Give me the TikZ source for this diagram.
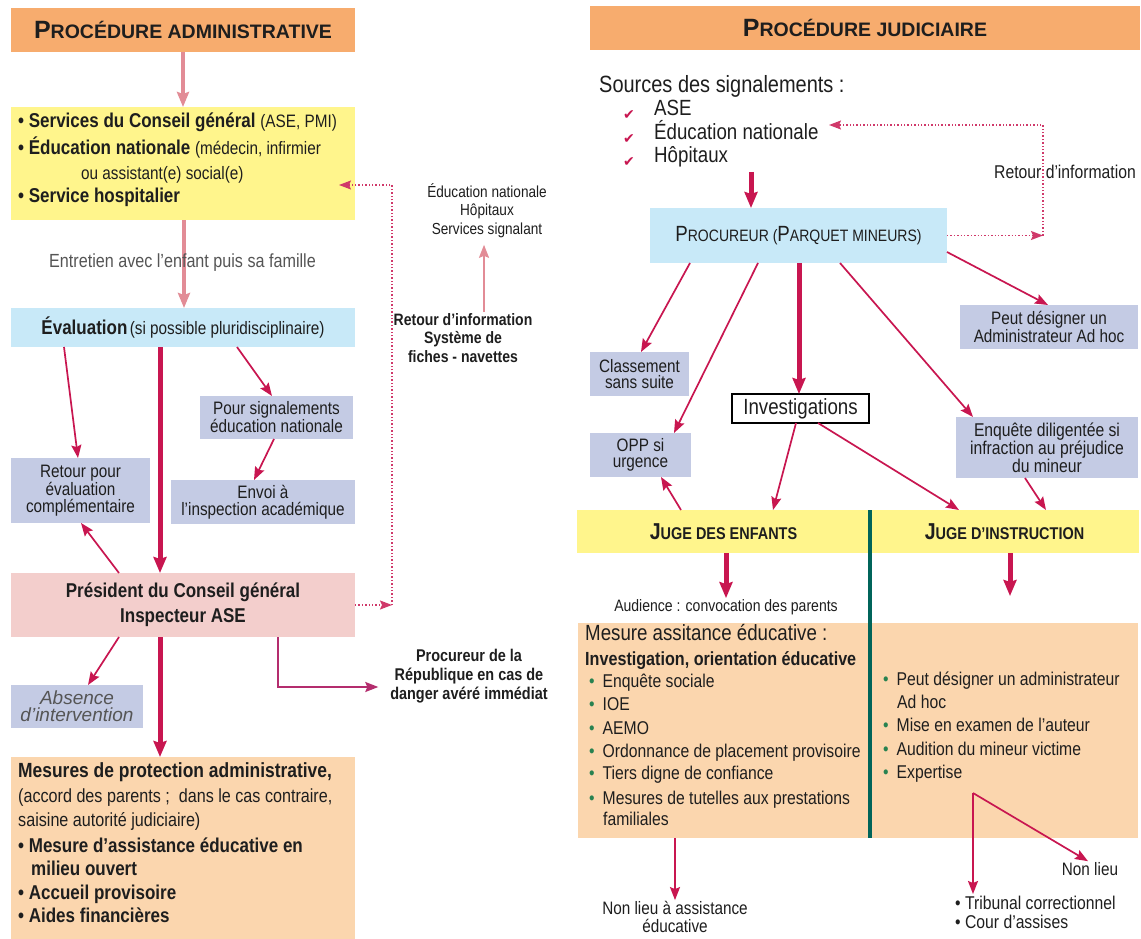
\documentclass[tikz,border=0pt]{standalone}
\usepackage{fontspec}
\setmainfont{Liberation Sans}[FakeStretch=0.85]
\newfontfamily\widefont{Liberation Sans}
\newfontfamily\symfont{DejaVu Sans}
\usetikzlibrary{arrows.meta}
\newcommand{\myfs}[2]{\fontsize{#1}{#2}\selectfont}
\definecolor{orng}{RGB}{247,172,110}
\definecolor{yelc}{RGB}{255,245,140}
\definecolor{lblue}{RGB}{200,233,248}
\definecolor{lav}{RGB}{196,203,228}
\definecolor{pnk}{RGB}{243,206,204}
\definecolor{peach}{RGB}{251,214,174}
\definecolor{crim}{RGB}{200,22,80}
\definecolor{magc}{RGB}{180,45,110}
\definecolor{palec}{RGB}{226,140,150}
\definecolor{divc}{RGB}{0,100,90}
\definecolor{txt}{RGB}{30,30,30}
\definecolor{gtxt}{RGB}{85,85,85}
\definecolor{bul}{RGB}{40,130,80}
\tikzset{
  every node/.append style={text=txt},
  box/.style={rectangle, inner sep=0pt, outer sep=0pt, align=center},
  lbl/.style={inner sep=1pt, align=center},
  line/.style={anchor=mid west, inner sep=0pt},
  thinar/.style={draw=crim, line width=1.7pt, -{Stealth[length=13pt,width=10pt,inset=2pt]}},
  thickar/.style={draw=crim, line width=5pt, -{Stealth[length=16pt,width=13pt,inset=2pt]}},
  palear/.style={draw=palec, line width=4pt, -{Stealth[length=15pt,width=12pt,inset=2pt]}},
  palethin/.style={draw=palec, line width=2pt, -{Stealth[length=13pt,width=10pt,inset=2pt]}},
  magar/.style={draw=magc, line width=1.7pt, -{Stealth[length=13pt,width=10pt,inset=2pt]}},
  dotar/.style={draw=crim!85, line width=1.4pt, dotted, -{Stealth[length=12pt,width=9pt,inset=2pt]}},
}
\begin{document}
\begin{tikzpicture}[x=1pt,y=-1pt]
\useasboundingbox (0,0) rectangle (1141,939);
\fill[white] (0,0) rectangle (1141,939);

% ===== LEFT : boxes =====
\node[box,fill=orng,minimum width=344pt,minimum height=44pt,font=\widefont\bfseries] (tadm) at (183,30)
  {\myfs{25}{25}P\myfs{19.5}{20}ROCÉDURE ADMINISTRATIVE};
\node[box,fill=yelc,minimum width=344pt,minimum height=113pt] (yel) at (183,163.5) {};
\node[box,fill=lblue,minimum width=344pt,minimum height=39pt] (eval) at (183,327.5) {};
\node[box,fill=lav,minimum width=153pt,minimum height=43pt,font=\myfs{18}{16.5}] (pour) at (276.5,417.5) {Pour signalements\\éducation nationale};
\node[box,fill=lav,minimum width=184pt,minimum height=44pt,font=\myfs{18}{16.5}] (envoi) at (263,502) {Envoi à\\l’inspection académique};
\node[box,fill=lav,minimum width=139pt,minimum height=65pt,font=\myfs{18}{16.5}] (retour) at (80.5,490.5) {Retour pour\\évaluation\\complémentaire};
\node[box,fill=pnk,minimum width=344pt,minimum height=64pt,font=\myfs{20}{25}\bfseries] (pres) at (183,605) {Président du Conseil général\\Inspecteur ASE};
\node[box,fill=lav,minimum width=132pt,minimum height=43pt,font=\widefont\itshape\myfs{19}{17},text=gtxt] (abs) at (77,706.5) {Absence\\d’intervention};
\node[box,fill=peach,minimum width=344pt,minimum height=182pt] (mes) at (183,848) {};

% ===== RIGHT : boxes =====
\node[box,fill=orng,minimum width=550pt,minimum height=44pt,font=\widefont\bfseries] (tjud) at (865,28)
  {\myfs{25}{25}P\myfs{19.5}{20}ROCÉDURE JUDICIAIRE};
\node[box,fill=lblue,minimum width=297pt,minimum height=55pt] (proc) at (798.5,235.5)
  {\myfs{22}{22}P\myfs{16.5}{18}ROCUREUR (\myfs{22}{22}P\myfs{16.5}{18}ARQUET MINEURS)};
\node[box,fill=lav,minimum width=178pt,minimum height=44pt,font=\myfs{18}{16.5}] (peut) at (1049,327) {Peut désigner un\\Administrateur Ad hoc};
\node[box,fill=lav,minimum width=99pt,minimum height=44pt,font=\myfs{18}{16.5}] (class) at (639.5,374) {Classement\\sans suite};
\node[box,fill=white,draw=black,line width=1.2pt,minimum width=137pt,minimum height=29pt,font=\myfs{22}{22}] (invest) at (800.5,408.5) {Investigations};
\node[box,fill=lav,minimum width=101pt,minimum height=44pt,font=\myfs{18}{16.5}] (opp) at (640.5,455) {OPP si\\urgence};
\node[box,fill=lav,minimum width=182pt,minimum height=61pt,font=\myfs{18.5}{18}] (enq) at (1047,447.5) {Enquête diligentée si\\infraction au préjudice\\du mineur};
\node[box,fill=yelc,minimum width=293pt,minimum height=43pt,font=\bfseries] (jugeE) at (723.5,531.5)
  {\myfs{23}{23}J\myfs{17}{18}UGE DES ENFANTS};
\node[box,fill=yelc,minimum width=269pt,minimum height=43pt,font=\bfseries] (jugeI) at (1004.5,531.5)
  {\myfs{23}{23}J\myfs{17}{18}UGE D’INSTRUCTION};
\node[box,fill=peach,minimum width=292pt,minimum height=215pt] (peachL) at (724,730.5) {};
\node[box,fill=peach,minimum width=268pt,minimum height=215pt] (peachR) at (1004,730.5) {};
\draw[divc,line width=4pt] (jugeE.north east) -- (peachL.south east);

% ===== LEFT : connectors =====
\draw[palear] (tadm.south) -- (yel.north);
\draw[palear] ([xshift=1pt]yel.south) -- ([xshift=1pt]eval.north);
\draw[thickar] ([xshift=-23pt]eval.south) -- ([xshift=-23pt]pres.north);
\draw[thinar] ([xshift=-119pt]eval.south) -- ([xshift=-2.5pt]retour.north);
\draw[thinar] ([xshift=54pt]eval.south) -- ([xshift=-4.5pt]pour.north);
\draw[thinar] ([xshift=-2.5pt]pour.south) -- ([xshift=-9pt]envoi.north);
\draw[thinar] ([xshift=-64pt]pres.north) -- ([xshift=0.5pt]retour.south);
\draw[thinar] ([xshift=-64pt]pres.south) -- ([xshift=11pt]abs.north);
\draw[thickar] ([xshift=-23pt]pres.south) -- ([xshift=-23pt]mes.north);
\coordinate (dL1) at (392,605);
\coordinate (dL2) at (392,185);
\coordinate (dL3) at (339,185);
\draw[dotar] (pres.east) -- (dL1);
\draw[dotar] (dL1) -- (dL2) -- (dL3);

% ===== LEFT : texts =====
\node[line,font=\myfs{20}{22}\bfseries] (y1) at (18,125) {• Services du Conseil général {\mdseries\myfs{18}{20}(ASE, PMI)}};
\node[line,font=\myfs{20}{22}\bfseries] (y2) at (18,152) {• Éducation nationale {\mdseries\myfs{18}{20}(médecin, infirmier}};
\node[line,font=\myfs{18}{20}] (y3) at (81,177) {ou assistant(e) social(e)};
\node[line,font=\myfs{20}{22}\bfseries] (y4) at (18,200) {• Service hospitalier};
\node[lbl,font=\myfs{19}{20},text=gtxt] (entr) at (182.5,263) {Entretien avec l’enfant puis sa famille};
\node[lbl] (evalt) at (eval.center) {{\bfseries\myfs{20}{22}Évaluation} {\myfs{18}{20}(si possible pluridisciplinaire)}};
\node[lbl,font=\myfs{16}{18.5}] (edusig) at (487,210.5) {Éducation nationale\\Hôpitaux\\Services signalant};
\node[lbl,font=\myfs{16.5}{18.5}\bfseries] (retinfoL) at (463,338) {Retour d’information\\Système de\\fiches - navettes};
\draw[palethin] ([xshift=21pt]retinfoL.north) -- ([xshift=-3pt,yshift=-6pt]edusig.south);
\node[box,font=\myfs{17}{19}\bfseries] (procrep) at (469,676) {Procureur de la\\République en cas de\\danger avéré immédiat};
\draw[magar] ([xshift=95pt]pres.south) |- ([xshift=-12pt,yshift=-11pt]procrep.west);
\node[line,font=\myfs{20.5}{22}\bfseries] (m1) at (18,775) {Mesures de protection administrative,};
\node[line,font=\myfs{19}{22}] (m2) at (18,800) {(accord des parents ;~ dans le cas contraire,};
\node[line,font=\myfs{19}{22}] (m3) at (18,824) {saisine autorité judiciaire)};
\node[line,font=\myfs{20}{22}\bfseries] (m4) at (18,850) {• Mesure d’assistance éducative en};
\node[line,font=\myfs{20}{22}\bfseries] (m5) at (31,873) {milieu ouvert};
\node[line,font=\myfs{20}{22}\bfseries] (m6) at (18,897) {• Accueil provisoire};
\node[line,font=\myfs{20}{22}\bfseries] (m7) at (18,920) {• Aides financières};

% ===== RIGHT : texts =====
\node[line,font=\myfs{23.5}{24}] (src) at (599,90) {Sources des signalements :};
\node[line,font=\myfs{22}{24}] (ase) at (654,113) {ASE};
\node[line,font=\myfs{22}{24}] (edn) at (654,137) {Éducation nationale};
\node[line,font=\myfs{22}{24}] (hop) at (654,160) {Hôpitaux};
\node[inner sep=0pt,font=\symfont\myfs{14}{14},text=crim] (ck1) at (629,115) {✔};
\node[inner sep=0pt,font=\symfont\myfs{14}{14},text=crim] (ck2) at (629,139) {✔};
\node[inner sep=0pt,font=\symfont\myfs{14}{14},text=crim] (ck3) at (629,162) {✔};
\node[lbl,font=\myfs{18.5}{20}] (retinfoR) at (1065,172) {Retour d’information};
\coordinate (srcb) at (751,172);
\coordinate (dR1) at (1043,235.5);
\coordinate (dR2) at (1043,125);
\coordinate (dR3) at (829,125);
\draw[dotar] (proc.east) -- (dR1);
\draw[dotar] (dR1) -- (dR2) -- (dR3);
\draw[thickar] (srcb) -- ([xshift=-47.5pt]proc.north);

% connectors from procureur
\draw[thinar] ([xshift=-108.5pt]proc.south) -- ([xshift=1.5pt]class.north);
\draw[thinar] ([xshift=-40.5pt]proc.south) -- ([xshift=33.5pt]opp.north);
\draw[thickar] ([xshift=0.5pt]proc.south) -- ([xshift=-1.5pt]invest.north);
\draw[thinar] ([xshift=41.5pt]proc.south) -- ([xshift=-74pt]enq.north);
\draw[thinar] ([yshift=-16.5pt]proc.east) -- ([xshift=-1pt]peut.north);
\draw[thinar] ([xshift=-42.5pt]jugeE.north) -- ([xshift=20.5pt]opp.south);
\draw[thinar] ([xshift=-4.5pt]invest.south) -- ([xshift=49.5pt]jugeE.north);
\draw[thinar] ([xshift=17.5pt]invest.south) -- ([xshift=-45.5pt]jugeI.north);
\draw[thinar] ([xshift=-22pt]enq.south) -- ([xshift=41.5pt]jugeI.north);

\node[lbl,font=\myfs{16.5}{18}] (aud) at (726,607) {Audience : convocation des parents};
\draw[thickar] ([xshift=2.5pt]jugeE.south) -- (aud.north);
\coordinate (jIend) at (1010,596);
\draw[thickar] ([xshift=5.5pt]jugeI.south) -- (jIend);

% peach left texts
\node[line,font=\myfs{22}{24}] (p1) at (585,638) {Mesure assitance éducative :};
\node[line,font=\myfs{19}{22}\bfseries] (p2) at (585,663) {Investigation, orientation éducative};
\node[line,font=\myfs{18.5}{22}] (p3) at (589,685) {\textcolor{bul}{•}\hspace{8pt}Enquête sociale};
\node[line,font=\myfs{18.5}{22}] (p4) at (589,708) {\textcolor{bul}{•}\hspace{8pt}IOE};
\node[line,font=\myfs{18.5}{22}] (p5) at (589,732) {\textcolor{bul}{•}\hspace{8pt}AEMO};
\node[line,font=\myfs{18.5}{22}] (p6) at (589,755) {\textcolor{bul}{•}\hspace{8pt}Ordonnance de placement provisoire};
\node[line,font=\myfs{18.5}{22}] (p7) at (589,777) {\textcolor{bul}{•}\hspace{8pt}Tiers digne de confiance};
\node[line,font=\myfs{18.5}{22}] (p8) at (589,802) {\textcolor{bul}{•}\hspace{8pt}Mesures de tutelles aux prestations};
\node[line,font=\myfs{18.5}{22}] (p9) at (603,823) {familiales};
% peach right texts
\node[line,font=\myfs{18.5}{22}] (r1) at (883,683) {\textcolor{bul}{•}\hspace{8pt}Peut désigner un administrateur};
\node[line,font=\myfs{18.5}{22}] (r2) at (897,706) {Ad hoc};
\node[line,font=\myfs{18.5}{22}] (r3) at (883,729) {\textcolor{bul}{•}\hspace{8pt}Mise en examen de l’auteur};
\node[line,font=\myfs{18.5}{22}] (r4) at (883,753) {\textcolor{bul}{•}\hspace{8pt}Audition du mineur victime};
\node[line,font=\myfs{18.5}{22}] (r5) at (883,776) {\textcolor{bul}{•}\hspace{8pt}Expertise};

% bottom
\node[lbl,font=\myfs{18}{18}] (nla) at (675,917) {Non lieu à assistance\\éducative};
\draw[thinar] ([xshift=-49pt]peachL.south) -- (nla.north);
\node[lbl,font=\myfs{18}{20}] (nonlieu) at (1090,869) {Non lieu};
\node[line,font=\myfs{18.5}{20}] (trib) at (955,907) {• Tribunal correctionnel};
\node[line,font=\myfs{18.5}{20}] (cour) at (955,926) {• Cour d’assises};
\coordinate (fork) at (973,793);
\coordinate (tribtop) at (973,894);
\draw[thinar] (fork) -- (tribtop);
\draw[thinar] (fork) -- ([xshift=-2pt]nonlieu.north);
\end{tikzpicture}
\end{document}
